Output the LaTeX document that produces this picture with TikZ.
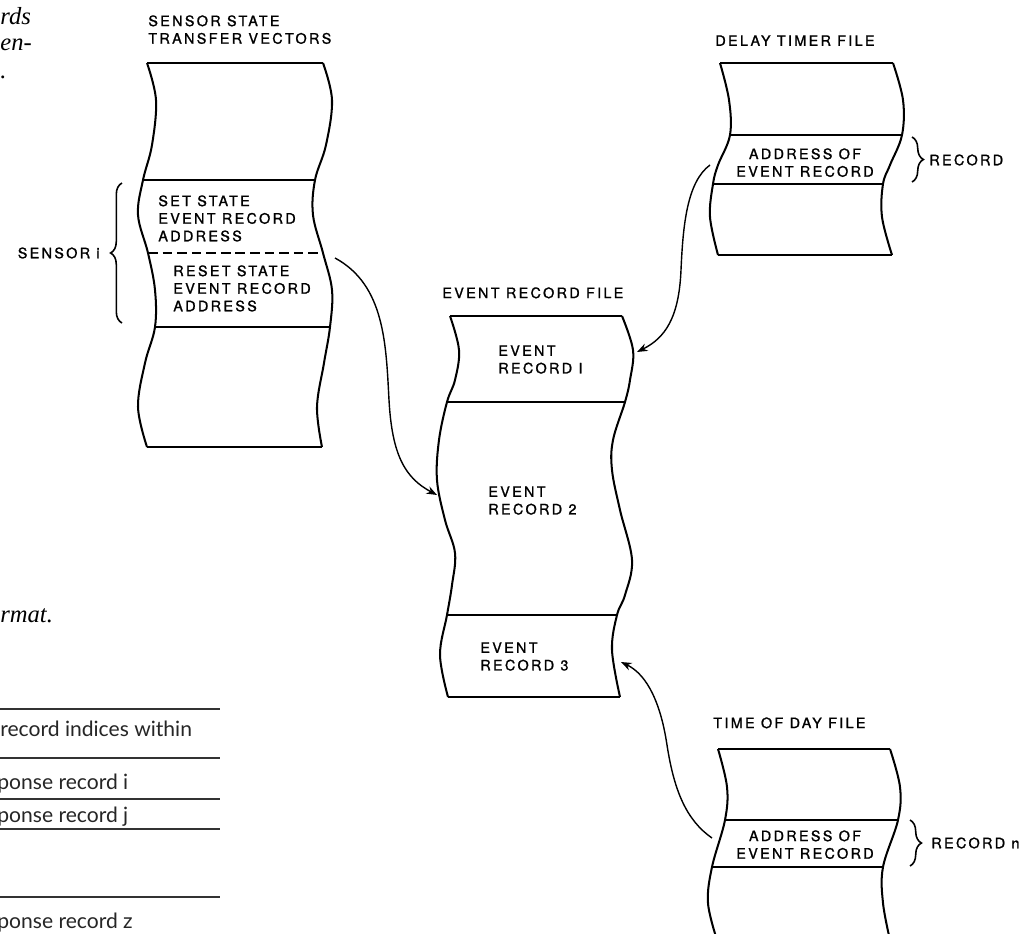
\documentclass[tikz,border=0pt]{standalone}
\usepackage{fontspec}
\usetikzlibrary{arrows.meta,decorations.pathreplacing}
\newfontfamily\letterfont[LetterSpace=16,FakeBold=1.2]{TeX Gyre Heros}
\newfontfamily\tablefont{Lato}
\newfontfamily\fragfont{Liberation Serif}
\begin{document}
\begin{tikzpicture}[x=0.02cm,y=-0.02cm,
  edge/.style={line width=1.15pt, line join=round},
  divider/.style={line width=1.15pt},
  dashdiv/.style={line width=1.15pt, dash pattern=on 5.5pt off 2.8pt},
  conn/.style={line width=0.8pt, -{Stealth[length=6pt,width=4.5pt]}},
  lbl/.style={font=\letterfont\fontsize{8.2}{10}\selectfont, inner sep=0pt, align=left},
  frag/.style={font=\fragfont\itshape\fontsize{14}{16}\selectfont, inner sep=0pt},
  tab/.style={font=\tablefont\fontsize{12}{14}\selectfont, inner sep=0pt, text=black!85},
  rule/.style={line width=0.6pt, black!80},
  brc/.style={line width=0.9pt, decorate, decoration={brace, amplitude=6.5pt}}]
\useasboundingbox (0,0) rectangle (1024,933);
\clip (0,0) rectangle (1024,933);
\fill[white] (0,0) rectangle (1024,933);

% ---------- sensor state transfer vectors column
\draw[edge] plot[smooth, tension=0.6] coordinates {(147,63) (156,100) (152,145) (143,180) (138,215) (148,253) (155,290) (155,327) (145,363) (138,407) (147,447)};
\draw[edge] plot[smooth, tension=0.6] coordinates {(323,63) (332,100) (326,145) (315,180) (313,215) (323,253) (332,290) (330,327) (324,363) (317,407) (322,447)};
\draw[divider] (147,63) -- (323,63);
\draw[divider] (143,180) -- (315,180);
\draw[dashdiv] (148,253) -- (323,253);
\draw[divider] (155,327) -- (330,327);
\draw[divider] (147,447) -- (322,447);

% ---------- delay timer file column
\draw[edge] plot[smooth, tension=0.6] coordinates {(720,63) (729,100) (730,135) (718,165) (713,184) (710,217) (718,255)};
\draw[edge] plot[smooth, tension=0.6] coordinates {(893,63) (903,100) (902,135) (890,165) (883,184) (882,217) (892,255)};
\draw[divider] (720,63) -- (893,63);
\draw[divider] (730,135) -- (902,135);
\draw[divider] (713,184) -- (883,184);
\draw[divider] (718,255) -- (892,255);

% ---------- event record file column
\draw[edge] plot[smooth, tension=0.6] coordinates {(450,316) (459,350) (455,380) (447,402) (439,440) (437,480) (445,520) (455,553) (452,585) (447,615) (440,655) (448,697)};
\draw[edge] plot[smooth, tension=0.6] coordinates {(622,316) (633,350) (630,380) (625,402) (613,440) (612,470) (620,510) (632,560) (625,595) (617,615) (612,650) (620,697)};
\draw[divider] (450,316) -- (622,316);
\draw[divider] (447,402) -- (625,402);
\draw[divider] (447,615) -- (617,615);
\draw[divider] (448,697) -- (620,697);

% ---------- time of day file column
\draw[edge] plot[smooth, tension=0.6] coordinates {(718,749) (727,787) (725,820) (712,867) (708,903) (717,940)};
\draw[edge] plot[smooth, tension=0.6] coordinates {(890,749) (900,787) (898,820) (883,867) (883,903) (890,940)};
\draw[divider] (718,749) -- (890,749);
\draw[divider] (725,820) -- (898,820);
\draw[divider] (712,867) -- (883,867);

% ---------- labels
\node[lbl, anchor=north west] (stitle) at (148,15) {SENSOR STATE\\TRANSFER VECTORS};
\node[lbl, anchor=north west] (setst) at (158,195) {SET STATE\\EVENT RECORD\\ADDRESS};
\node[lbl, anchor=north west] (resetst) at (173,265) {RESET STATE\\EVENT RECORD\\ADDRESS};
\node[lbl, anchor=east] (sensi) at (100,253) {SENSOR i};
\node[lbl, anchor=north west] (dtitle) at (715,35) {DELAY TIMER FILE};
\node[lbl, anchor=north, align=center] (daddr) at (805,148) {ADDRESS OF\\EVENT RECORD};
\node[lbl, anchor=west] (drec) at (929,160) {RECORD};
\node[lbl, anchor=north west] (etitle) at (442,287) {EVENT RECORD FILE};
\node[lbl, anchor=north west] (ev1) at (498,345) {EVENT\\RECORD I};
\node[lbl, anchor=north west] (ev2) at (488,486) {EVENT\\RECORD 2};
\node[lbl, anchor=north west] (ev3) at (480,642) {EVENT\\RECORD 3};
\node[lbl, anchor=north west] (ttitle) at (713,717) {TIME OF DAY FILE};
\node[lbl, anchor=north, align=center] (taddr) at (805,830) {ADDRESS OF\\EVENT RECORD};
\node[lbl, anchor=west] (trec) at (931,843) {RECORD n};

% ---------- braces
\draw[brc] (122,323) -- (122,183);
\draw[brc] (912,137) -- (912,182);
\draw[brc] (910,820) -- (910,866);

% ---------- connectors
\coordinate (a1s) at (335,258);
\coordinate (a1e) at (437,495);
\draw[conn] (a1s) .. controls (385,285) and (386,345) .. (389,400) .. controls (392,455) and (405,478) .. (a1e);
\coordinate (a2s) at (710,165);
\coordinate (a2e) at (637,352);
\draw[conn] (a2s) .. controls (687,182) and (683,225) .. (681,270) .. controls (679,318) and (665,338) .. (a2e);
\coordinate (a3s) at (712,838);
\coordinate (a3e) at (621,662);
\draw[conn] (a3s) .. controls (686,820) and (674,790) .. (667,745) .. controls (661,705) and (648,675) .. (a3e);

% ---------- fragments of neighbouring text (at the page edge)
\node[frag, anchor=base west] (f1) at (0,25) {rds};
\node[frag, anchor=base west] (f2) at (0,51) {en-};
\node[frag, anchor=base west] (f3) at (0,78) {.};
\node[frag, anchor=base west] (f4) at (0,622) {rmat.};

% ---------- fragment of a table
\draw[rule] (0,709) -- (220,709);
\draw[rule] (0,758) -- (220,758);
\draw[rule] (0,799) -- (220,799);
\draw[rule] (0,829) -- (220,829);
\draw[rule] (0,897) -- (220,897);
\node[tab, anchor=base west] (t1) at (0,736) {record indices within};
\node[tab, anchor=base west] (t2) at (-3,789) {ponse record i};
\node[tab, anchor=base west] (t3) at (-3,822) {ponse record j};
\node[tab, anchor=base west] (t4) at (-3,928) {ponse record z};
\end{tikzpicture}
\end{document}
